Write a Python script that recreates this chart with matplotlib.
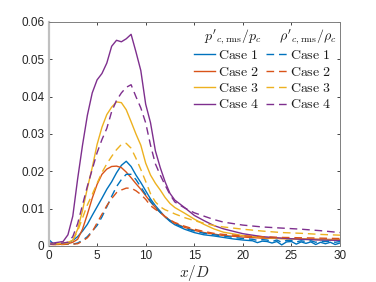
import numpy as np
import matplotlib
matplotlib.use("Agg")
import matplotlib.pyplot as plt

plt.rcParams['mathtext.fontset'] = 'cm'
plt.rcParams['font.family'] = ['Liberation Sans', 'DejaVu Sans']

# ---------------- data ----------------
X = [0, 0.5, 1, 1.5, 2, 2.5, 3, 3.5, 4, 4.5, 5, 5.5, 6, 6.5, 7, 7.5, 8, 8.5, 9, 9.5,
     10, 10.5, 11, 11.5, 12, 12.5, 13, 14, 15, 16, 17, 18, 20, 22, 24, 26, 28, 30]

p4 = [0.0008, 0.0008, 0.0010, 0.0012, 0.0030, 0.0080, 0.0180, 0.0270, 0.0350, 0.0410,
      0.0445, 0.0462, 0.0490, 0.0535, 0.0551, 0.0547, 0.0555, 0.0567, 0.0520, 0.0470,
      0.0380, 0.0330, 0.0255, 0.0210, 0.0172, 0.0141, 0.0123, 0.0103, 0.0082, 0.0068,
      0.0055, 0.0046, 0.0033, 0.0025, 0.0021, 0.0018, 0.0016, 0.0015]
r4 = [0.0005, 0.0005, 0.0007, 0.0008, 0.0010, 0.0025, 0.0060, 0.0110, 0.0160, 0.0205,
      0.0250, 0.0285, 0.0315, 0.0360, 0.0390, 0.0410, 0.0425, 0.0432, 0.0400, 0.0370,
      0.0330, 0.0270, 0.0220, 0.0190, 0.0163, 0.0138, 0.0118, 0.0102, 0.0089, 0.0080,
      0.0071, 0.0064, 0.0056, 0.0051, 0.0048, 0.0045, 0.0041, 0.0036]
p3 = [0.0005, 0.0005, 0.0006, 0.0008, 0.0010, 0.0015, 0.0045, 0.0095, 0.0155, 0.0210,
      0.0272, 0.0318, 0.0352, 0.0372, 0.0386, 0.0384, 0.0365, 0.0333, 0.0300, 0.0270,
      0.0222, 0.0190, 0.0168, 0.0150, 0.0130, 0.0114, 0.0103, 0.0088, 0.0072, 0.0058,
      0.0046, 0.0037, 0.0028, 0.0023, 0.0020, 0.0018, 0.0017, 0.0016]
r3 = [0.0005, 0.0005, 0.0005, 0.0006, 0.0008, 0.0015, 0.0040, 0.0075, 0.0110, 0.0138,
      0.0168, 0.0197, 0.0220, 0.0240, 0.0258, 0.0272, 0.0275, 0.0262, 0.0235, 0.0205,
      0.0173, 0.0140, 0.0118, 0.0105, 0.0097, 0.0092, 0.0086, 0.0076, 0.0068, 0.0061,
      0.0055, 0.0051, 0.0045, 0.0040, 0.0036, 0.0034, 0.0031, 0.0029]
p2 = [0.0005, 0.0004, 0.0004, 0.0005, 0.0006, 0.0010, 0.0018, 0.0045, 0.0085, 0.0128,
      0.0165, 0.0192, 0.0206, 0.0213, 0.0214, 0.0210, 0.0198, 0.0183, 0.0167, 0.0152,
      0.0135, 0.0118, 0.0103, 0.0090, 0.0078, 0.0069, 0.0061, 0.0050, 0.0042, 0.0036,
      0.0032, 0.0028, 0.0024, 0.0021, 0.0020, 0.0019, 0.0018, 0.0017]
r2 = [0.0004, 0.0004, 0.0004, 0.0004, 0.0005, 0.0005, 0.0006, 0.0013, 0.0022, 0.0038,
      0.0062, 0.0085, 0.0108, 0.0127, 0.0143, 0.0150, 0.0155, 0.0155, 0.0148, 0.0138,
      0.0125, 0.0108, 0.0098, 0.0090, 0.0079, 0.0070, 0.0063, 0.0053, 0.0045, 0.0039,
      0.0034, 0.0031, 0.0027, 0.0025, 0.0023, 0.0022, 0.0021, 0.0020]

X1 = [0, 0.5, 1, 1.5, 2, 2.5, 3, 3.5, 4, 4.5, 5, 5.5, 6, 6.5, 7, 7.5, 8, 8.5, 9, 9.5,
      10, 10.5, 11, 11.5, 12, 12.5, 13, 14, 15, 16, 17, 18, 19, 20, 21, 21.5, 22,
      22.5, 23, 23.5, 24, 24.5, 25, 25.5, 26, 26.5, 27, 27.5, 28, 28.5, 29, 29.5, 30]
p1 = [0.0018, 0.0006, 0.0005, 0.0006, 0.0008, 0.0015, 0.0025, 0.0040, 0.0058, 0.0082,
      0.0105, 0.0128, 0.0152, 0.0172, 0.0196, 0.0216, 0.0227, 0.0213, 0.0190, 0.0170,
      0.0148, 0.0126, 0.0108, 0.0093, 0.0078, 0.0066, 0.0057, 0.0045, 0.0036, 0.0030,
      0.0027, 0.0023, 0.0019, 0.0016, 0.0014, 0.0009, 0.0013, 0.0012, 0.0008, 0.0012,
      0.0003, 0.0011, 0.0012, 0.0005, 0.0011, 0.0007, 0.0011, 0.0004, 0.0010, 0.0006,
      0.0010, 0.0004, 0.0008]
r1 = [0.0005, 0.0005, 0.0005, 0.0005, 0.0005, 0.0005, 0.0008, 0.0015, 0.0025, 0.0040,
      0.0055, 0.0078, 0.0105, 0.0133, 0.0159, 0.0178, 0.0192, 0.0192, 0.0178, 0.0158,
      0.0138, 0.0120, 0.0103, 0.0090, 0.0078, 0.0068, 0.0060, 0.0048, 0.0040, 0.0034,
      0.0030, 0.0027, 0.0023, 0.0020, 0.0018, 0.0015, 0.0017, 0.0016, 0.0012, 0.0016,
      0.0010, 0.0015, 0.0015, 0.0011, 0.0014, 0.0012, 0.0014, 0.0010, 0.0013, 0.0012,
      0.0013, 0.0010, 0.0012]

cases = ['Case 1', 'Case 2', 'Case 3', 'Case 4']
colors = ['#0072BD', '#D95319', '#EDB120', '#7E2F8E']
xticks = [0, 5, 10, 15, 20, 25, 30]
yticks = [0, 0.01, 0.02, 0.03, 0.04, 0.05, 0.06]
yticklabels = ['0', '0.01', '0.02', '0.03', '0.04', '0.05', '0.06']

solid_x = [X1, X, X, X]
solid_y = [p1, p2, p3, p4]
dash_x = [X1, X, X, X]
dash_y = [r1, r2, r3, r4]

# ---------------- figure ----------------
fig = plt.figure(figsize=(3.76, 2.82), dpi=100)
ax = fig.add_axes([48.5 / 376, 36 / 282, (340 - 48.5) / 376, (246 - 22) / 282])

lw = 1.0
hs, hd = [], []
for i in range(4):
    h, = ax.plot(solid_x[i], solid_y[i], color=colors[i], lw=lw, solid_joinstyle='round')
    hs.append(h)
for i in range(4):
    h, = ax.plot(dash_x[i], dash_y[i], color=colors[i], lw=lw, dashes=(5.5, 3.5))
    hd.append(h)

ax.set_xlim(0, 30)
ax.set_ylim(0, 0.06)
ax.set_xticks(xticks)
ax.set_xticklabels([str(t) for t in xticks])
ax.set_yticks(yticks)
ax.set_yticklabels(yticklabels)

tc = '#262626'
ax.tick_params(direction='in', length=2.5, width=0.6, top=True, right=True,
               labelsize=8.5, colors=tc, pad=3)
for s in ['top', 'right', 'bottom']:
    ax.spines[s].set_color('#7f7f7f')
    ax.spines[s].set_linewidth(0.7)
ax.spines['left'].set_color('#c0c0c0')
ax.spines['left'].set_linewidth(1.6)

fig.text(194 / 376, 1 - 273 / 282, r'$x/D$', ha='center', va='center',
         fontsize=11, color=tc)

labels = [r'$\mathrm{Case\ %s}$' % c.split()[1] for c in cases]
leg = fig.legend(hs + hd, labels + labels, ncol=2, loc='upper left',
                 bbox_to_anchor=(194 / 376, 1 - 48 / 282), frameon=False,
                 fontsize=10, handlelength=1.5, handletextpad=0.25,
                 columnspacing=0.45, labelspacing=0.18, borderpad=0, borderaxespad=0)
for t in leg.get_texts():
    t.set_color('#1a1a1a')

fig.text(233 / 376, 1 - 37 / 282, r"$p'_{c,\mathrm{rms}}/p_c$", ha='center', va='center',
         fontsize=10, color='#1a1a1a')
fig.text(308 / 376, 1 - 37 / 282, r"$\rho'_{c,\mathrm{rms}}/\rho_c$", ha='center', va='center',
         fontsize=10, color='#1a1a1a')

fig.savefig('out.png', dpi=100)
